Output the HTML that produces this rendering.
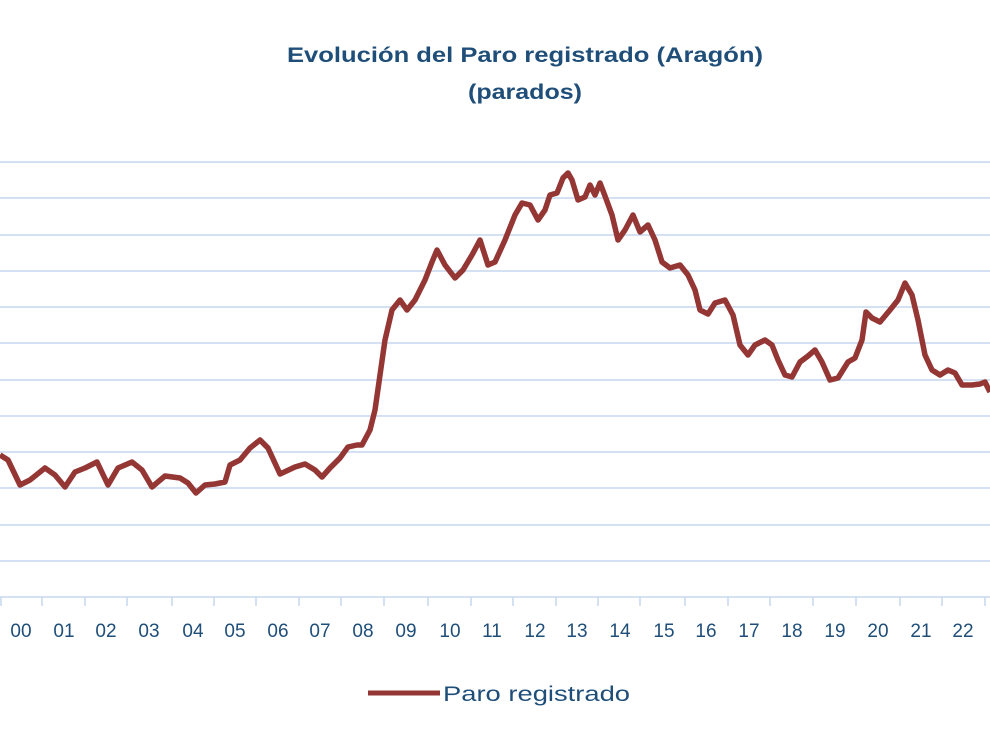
<!DOCTYPE html>
<html><head><meta charset="utf-8"><style>
body{margin:0;background:#fff;}
svg{display:block;font-family:"Liberation Sans",sans-serif;}
</style></head><body>
<svg width="990" height="743" viewBox="0 0 990 743">
<text x="287" y="62" font-size="21" font-weight="bold" fill="#1f4e79" textLength="476" lengthAdjust="spacingAndGlyphs">Evolución del Paro registrado (Aragón)</text>
<text x="468" y="99" font-size="21" font-weight="bold" fill="#1f4e79" textLength="114" lengthAdjust="spacingAndGlyphs">(parados)</text>
<g stroke="#c6d7ee" stroke-width="1.5">
<line x1="0" x2="990" y1="162" y2="162"/><line x1="0" x2="990" y1="198" y2="198"/>
<line x1="0" x2="990" y1="235" y2="235"/><line x1="0" x2="990" y1="271" y2="271"/>
<line x1="0" x2="990" y1="307" y2="307"/><line x1="0" x2="990" y1="343" y2="343"/>
<line x1="0" x2="990" y1="380" y2="380"/><line x1="0" x2="990" y1="416" y2="416"/>
<line x1="0" x2="990" y1="452" y2="452"/><line x1="0" x2="990" y1="488" y2="488"/>
<line x1="0" x2="990" y1="525" y2="525"/><line x1="0" x2="990" y1="561" y2="561"/>
<line x1="0" x2="990" y1="597" y2="597"/>
<path d="M1 597v9M42 597v9M85 597v9M127 597v9M172 597v9M214 597v9M256 597v9M299 597v9M341 597v9M384 597v9M428 597v9M471 597v9M513 597v9M556 597v9M598 597v9M640 597v9M685 597v9M728 597v9M770 597v9M813 597v9M856 597v9M900 597v9M942 597v9M985 597v9"/>
</g>
<g font-size="19" fill="#1f4e79" text-anchor="middle">
<text x="21" y="637">00</text><text x="64" y="637">01</text><text x="106" y="637">02</text><text x="149" y="637">03</text><text x="193" y="637">04</text><text x="235" y="637">05</text><text x="278" y="637">06</text><text x="320" y="637">07</text><text x="363" y="637">08</text><text x="406" y="637">09</text><text x="450" y="637">10</text><text x="492" y="637">11</text><text x="535" y="637">12</text><text x="577" y="637">13</text><text x="620" y="637">14</text><text x="664" y="637">15</text><text x="706" y="637">16</text><text x="749" y="637">17</text><text x="792" y="637">18</text><text x="835" y="637">19</text><text x="878" y="637">20</text><text x="921" y="637">21</text><text x="963" y="637">22</text>
</g>
<polyline fill="none" stroke="#943634" stroke-width="5.5" stroke-linejoin="round" points="0,455 8,460 20,485 30,480 45,468 55,475 65,487 75,472 85,468 97,462 108,485 118,468 132,462 142,470 152,487 165,476 180,478 188,483 196,493 205,485 215,484 225,482 230,465 240,460 250,448 260,440 268,448 280,474 295,467 305,464 315,470 322,477 330,468 340,458 348,447 357,445 362,445 370,430 375,410 380,375 385,340 392,310 400,300 407,310 415,300 425,280 432,262 437,250 445,265 455,278 463,270 472,255 480,240 488,265 495,262 505,240 515,215 522,203 530,205 538,220 545,210 550,195 557,193 563,178 568,173 572,180 578,200 585,197 590,185 595,195 600,183 605,196 612,215 618,240 625,230 633,215 640,232 648,225 655,240 662,262 670,268 680,265 688,275 695,290 700,310 708,314 715,303 725,300 733,315 740,345 748,355 755,345 765,340 772,345 778,360 785,375 792,377 800,362 808,356 815,350 822,362 830,380 838,378 848,362 855,358 862,340 866,312 872,318 880,322 890,310 898,300 905,283 912,295 918,320 925,355 932,370 940,375 948,370 955,373 962,385 972,385 980,384 985,382 990,392"/>
<line x1="368" x2="440" y1="693" y2="693" stroke="#943634" stroke-width="5"/>
<text x="443" y="701" font-size="21" fill="#1f4e79" textLength="187" lengthAdjust="spacingAndGlyphs">Paro registrado</text>
</svg>
</body></html>
